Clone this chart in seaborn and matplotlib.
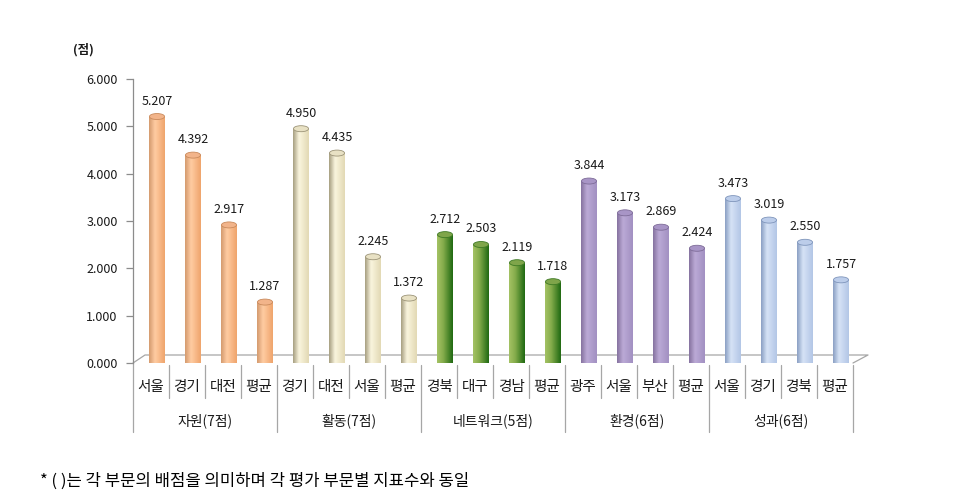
import numpy as np
import pandas as pd
import matplotlib
matplotlib.use("Agg")
import matplotlib.pyplot as plt
import matplotlib.transforms as mtransforms
from matplotlib.colors import LinearSegmentedColormap
from matplotlib.patches import Ellipse
from matplotlib.lines import Line2D
import seaborn as sns

# ---------------- data ----------------
groups = ["자원(7점)", "활동(7점)", "네트워크(5점)", "환경(6점)", "성과(6점)"]
regions_jawon = ["서울", "경기", "대전", "평균"]
regions_hwaldong = ["경기", "대전", "서울", "평균"]
regions_network = ["경북", "대구", "경남", "평균"]
regions_hwangyeong = ["광주", "서울", "부산", "평균"]
regions_seonggwa = ["서울", "경기", "경북", "평균"]
values_jawon = [5.207, 4.392, 2.917, 1.287]
values_hwaldong = [4.950, 4.435, 2.245, 1.372]
values_network = [2.712, 2.503, 2.119, 1.718]
values_hwangyeong = [3.844, 3.173, 2.869, 2.424]
values_seonggwa = [3.473, 3.019, 2.550, 1.757]
y_ticks = [0, 1, 2, 3, 4, 5, 6]
unit_label = "(점)"
footnote = "* ( )는 각 부문의 배점을 의미하며 각 평가 부문별 지표수와 동일"

region_lists = [regions_jawon, regions_hwaldong, regions_network,
                regions_hwangyeong, regions_seonggwa]
value_lists = [values_jawon, values_hwaldong, values_network,
               values_hwangyeong, values_seonggwa]

rows = []
for g, regs, vals in zip(groups, region_lists, value_lists):
    for r, v in zip(regs, vals):
        rows.append({"group": g, "region": r, "slot": f"{g}|{r}", "value": v})
df = pd.DataFrame(rows)
slots = list(df["slot"])

# ---------------- style ----------------
base_colors = ["#FAC090", "#EEE8C8", "#77A040", "#B3A2C7", "#C6D9F1"]
shades = [
    ("#D49A6E", "#FFCCA2", "#EFA46C", "#F2B48A"),   # orange
    ("#A69E80", "#FAF5DE", "#E2D9B4", "#E8E1C4"),   # beige
    ("#A4C264", "#86AD4C", "#1F6912", "#7FA54A"),   # green
    ("#85729F", "#BBAAD6", "#A290C2", "#A895C6"),   # purple
    ("#8A9FC3", "#D6E3F6", "#B3C6E6", "#BCCDEA"),   # blue
]
edge_cols = ["#C98A5C", "#9C9478", "#3E7A25", "#7E6C98", "#7F95BB"]

sns.set_theme(style="white")
plt.rcParams["font.family"] = ["Noto Sans CJK KR", "DejaVu Sans"]

W, H = 971, 498
fig = plt.figure(figsize=(W / 100, H / 100), dpi=100)
ax_left, ax_bottom, ax_w, ax_h = 133, 363, 720, 284
ax = fig.add_axes([ax_left / W, (H - ax_bottom) / H, ax_w / W, ax_h / H])

sns.barplot(data=df, x="slot", y="value", hue="group", order=slots,
            hue_order=groups, palette=base_colors, dodge=False, width=0.42,
            legend=False, ax=ax, edgecolor="none", linewidth=0, zorder=2)

xlim = (-0.667, 19.333)
ylim = (0, 6)
cap_h = 6 / ax_h * 6  # ellipse height in data units (~6 px)

grad = np.linspace(0, 1, 64).reshape(1, -1)
for cont, sh, ec in zip(ax.containers, shades, edge_cols):
    cmap = LinearSegmentedColormap.from_list(
        "c", [(0, sh[0]), (0.38, sh[1]), (1, sh[2])])
    for bar in cont:
        x0 = bar.get_x()
        w = bar.get_width()
        h = bar.get_height()
        im = ax.imshow(grad, extent=(x0, x0 + w, 0, h), aspect="auto",
                       cmap=cmap, origin="lower", interpolation="bicubic",
                       zorder=2.5)
        im.set_clip_path(bar)
        ax.add_patch(Ellipse((x0 + w / 2, h), w, cap_h, facecolor=sh[3],
                             edgecolor=ec, lw=0.6, zorder=3))
        ax.annotate(f"{h:.3f}", (x0 + w / 2, h), xytext=(0, 6.5),
                    textcoords="offset points", ha="center", va="bottom",
                    fontsize=9, color="#1A1A1A")

ax.set_xlim(*xlim)
ax.set_ylim(*ylim)
ax.set_aspect("auto")

# axes styling
for s in ["top", "right", "bottom"]:
    ax.spines[s].set_visible(False)
ax.spines["left"].set_color("#8C8C8C")
ax.spines["left"].set_linewidth(0.9)
ax.set_yticks(y_ticks)
ax.set_yticklabels([f"{v:.3f}" for v in y_ticks])
ax.tick_params(axis="y", left=True, length=5, width=0.9, color="#8C8C8C",
               direction="out", labelsize=9, pad=6, labelcolor="#1A1A1A")
ax.set_xticks([])
ax.set_xlabel("")
ax.set_ylabel("")
ax.grid(False)

# 3D floor outline
ax.add_line(Line2D([0, 12 / ax_w, 1 + 15 / ax_w, 1],
                   [0, 8 / ax_h, 8 / ax_h, 0], transform=ax.transAxes,
                   color="#A6A6A6", lw=0.9, clip_on=False, zorder=1))

# category table below
trans = mtransforms.blended_transform_factory(ax.transData, ax.transAxes)
line_col = "#A6A6A6"
for k in range(len(slots) + 1):
    x = k + xlim[0]
    bottom = -69 / ax_h if k % 4 == 0 else -35 / ax_h
    top = 0 if k == 0 else -2 / ax_h
    ax.add_line(Line2D([x, x], [top, bottom], transform=trans, color=line_col,
                       lw=0.9, clip_on=False))
for i, r in enumerate(df["region"]):
    ax.text(i - 0.167, -24 / ax_h, r, transform=trans, ha="center",
            va="center", fontsize=10.5, color="#1A1A1A")
for gi, g in enumerate(groups):
    ax.text(gi * 4 + 1.5 - 0.167, -58 / ax_h, g, transform=trans,
            ha="center", va="center", fontsize=10, color="#1A1A1A")

fig.text(83 / W, 1 - 50 / H, unit_label, ha="center", va="center",
         fontsize=9, fontweight="bold", color="#1A1A1A")
fig.text(40 / W, 1 - 481 / H, footnote, ha="left", va="center",
         fontsize=12, color="#000000")

fig.savefig("out.png", dpi=100)
